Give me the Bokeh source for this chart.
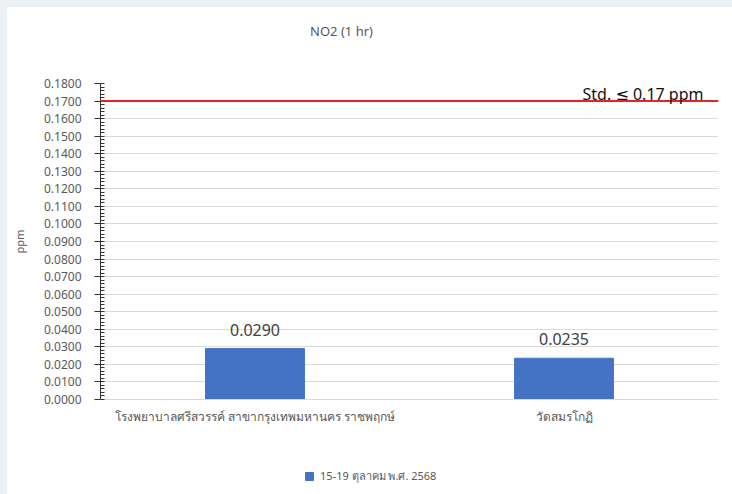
from bokeh.plotting import figure
from bokeh.models import (ColumnDataSource, FactorRange, Span, Label, Legend, LegendItem,
                          NumeralTickFormatter, SingleIntervalTicker, Range1d)
from bokeh.layouts import column
from bokeh.embed import file_html
from bokeh.resources import INLINE
from bokeh.core.properties import value

# ---- data ----
stations = ["โรงพยาบาลศรีสวรรค์ สาขากรุงเทพมหานคร ราชพฤกษ์", "วัดสมรโกฏิ"]
no2_values = [0.0290, 0.0235]
series_name = "15-19 ตุลาคม พ.ศ. 2568"
standard_value = 0.17
standard_label = "Std. ≤ 0.17 ppm"
chart_title = "NO2 (1 hr)"
y_label = "ppm"

FONT = "Tahoma, 'Noto Sans', 'DejaVu Sans', sans-serif"
GRAY = "#595959"
BAR_COLOR = "#4472c4"


def strip(height, x_range, y_range):
    f = figure(width=725, height=height, output_backend="svg", toolbar_location=None,
               title=None, x_axis_location=None, y_axis_location=None,
               min_border_left=93, min_border_right=14, min_border_top=0, min_border_bottom=0,
               x_range=x_range, y_range=y_range)
    f.grid.visible = False
    f.outline_line_color = None
    f.border_fill_color = "white"
    f.background_fill_color = "white"
    return f


# ---- header with the title ----
hf = strip(40, Range1d(0, 1), Range1d(0, 1))
hf.add_layout(Label(x=0.39, y=0.425, text=chart_title, text_align="center",
                    text_baseline="middle", text_font_size="13px", text_color=GRAY,
                    text_font=FONT))

# ---- main chart ----
src = ColumnDataSource(dict(x=stations, y=no2_values,
                            lbl=[f"{v:.4f}" for v in no2_values]))

p = figure(x_range=FactorRange(factors=stations, range_padding=0),
           y_range=Range1d(0, 0.18), title=None,
           width=725, height=393, output_backend="svg", toolbar_location=None,
           min_border_left=93, min_border_right=14, min_border_top=36, min_border_bottom=41)
p.outline_line_color = None
p.background_fill_color = "white"
p.border_fill_color = "white"

bars = p.vbar(x="x", top="y", width=0.32, source=src, color=BAR_COLOR)
p.text(x="x", y="y", text="lbl", source=src, text_align="center", text_baseline="bottom",
       y_offset=-13, text_font_size="16px", text_color="#404040", text_font=value(FONT))

p.add_layout(Span(location=standard_value, dimension="width", line_color="#e62222", line_width=2))
p.add_layout(Label(x=2, y=standard_value, text=standard_label, x_offset=-15, y_offset=-4,
                   text_align="right", text_baseline="bottom", text_font_size="16px",
                   text_color="#111111", text_font=FONT))

yax = p.yaxis[0]
yax.ticker = SingleIntervalTicker(interval=0.01, num_minor_ticks=5)
yax.formatter = NumeralTickFormatter(format="0.0000")
yax.major_label_text_font_size = "12px"
yax.major_label_text_color = GRAY
yax.major_label_text_font = FONT
yax.axis_line_color = "#333333"
yax.major_tick_line_color = "#333333"
yax.minor_tick_line_color = "#333333"
yax.major_tick_out = 6
yax.major_tick_in = 0
yax.minor_tick_in = 4
yax.minor_tick_out = 0
yax.major_label_standoff = 13
yax.axis_label = y_label
yax.axis_label_text_font_size = "11px"
yax.axis_label_text_font_style = "normal"
yax.axis_label_text_color = GRAY
yax.axis_label_text_font = FONT
yax.axis_label_standoff = 14

xax = p.xaxis[0]
xax.axis_line_color = "#d9d9d9"
xax.major_tick_line_color = None
xax.minor_tick_line_color = None
xax.major_label_text_font_size = "12px"
xax.major_label_text_color = GRAY
xax.major_label_text_font = FONT
xax.major_label_standoff = 2

p.xgrid.grid_line_color = None
p.ygrid.grid_line_color = "#d9d9d9"
p.ygrid.ticker = SingleIntervalTicker(interval=0.01)

# ---- legend strip below the chart ----
# the series is drawn out of view here; only its legend entry shows
lf = strip(54, FactorRange(factors=stations), Range1d(1, 2))
lbar = lf.vbar(x="x", top="y", width=0.32, source=src, color=BAR_COLOR)
legend = Legend(items=[LegendItem(label=series_name, renderers=[lbar])],
                location=(204, 9), orientation="horizontal",
                glyph_width=10, glyph_height=10, label_text_font_size="11px",
                label_text_color=GRAY, label_text_font=FONT,
                border_line_alpha=0, background_fill_alpha=0, padding=0, margin=0,
                label_standoff=6, label_height=12)
lf.add_layout(legend)

inner = column(hf, p, lf, spacing=0, styles={"background-color": "white"})
layout = column(inner, styles={"background-color": "#edf0f4", "padding-left": "7px",
                               "padding-top": "7px"})

open("out.html", "w").write(file_html(layout, INLINE))
